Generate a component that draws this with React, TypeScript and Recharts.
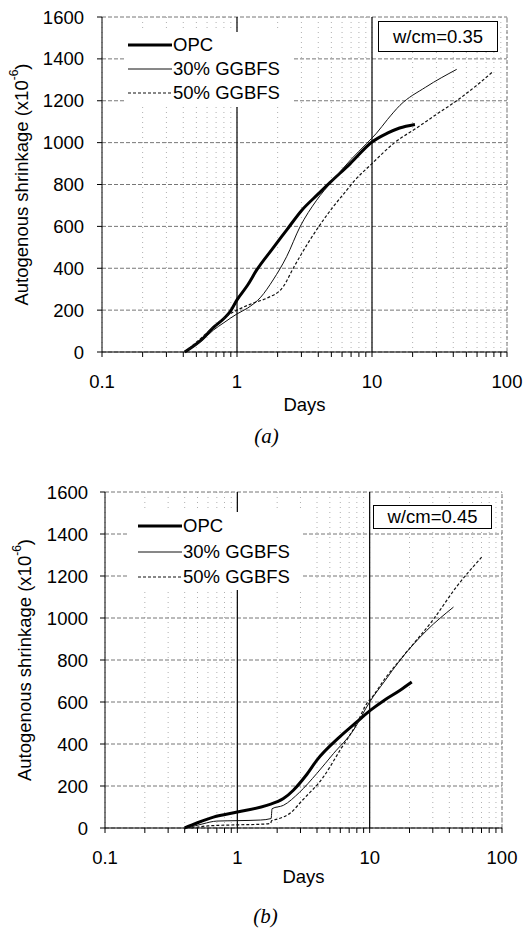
import React from 'react';
import { LineChart, Line, XAxis, YAxis, CartesianGrid, ReferenceLine, Legend } from 'recharts';

const X_TICKS = [0.1, 0.2, 0.3, 0.4, 0.5, 0.6, 0.7, 0.8, 0.9, 1, 2, 3, 4, 5, 6, 7, 8, 9, 10, 20, 30, 40, 50, 60, 70, 80, 90, 100];
const X_LABELS = [0.1, 1, 10, 100];
const MAJOR_X_LINES = [1, 10];
const Y_TICKS = [0, 200, 400, 600, 800, 1000, 1200, 1400, 1600];
const SERIES_NAMES = ['OPC', '30% GGBFS', '50% GGBFS'];

// Panel (a) w/cm = 0.35
const A_OPC_DAYS = [0.41, 0.55, 0.67, 0.8, 0.89, 1.0, 1.2, 1.4, 1.8, 2.33, 3.0, 4.0, 4.9, 6.9, 10, 13, 16, 20.8];
const A_OPC_VALUES = [0, 60, 118, 160, 193, 249, 320, 392, 487, 582, 675, 755, 810, 900, 1003, 1045, 1070, 1087];
const A_G30_DAYS = [0.41, 0.55, 0.67, 0.8, 1.0, 1.2, 1.5, 1.85, 2.33, 2.93, 3.89, 5.0, 7.0, 9.1, 10.8, 13, 16.1, 25, 42.4];
const A_G30_VALUES = [0, 55, 105, 140, 182, 210, 262, 344, 455, 598, 725, 812, 920, 995, 1045, 1110, 1178, 1265, 1350];
const A_G50_DAYS = [0.41, 0.55, 0.67, 0.85, 1.0, 1.31, 1.66, 2.2, 2.61, 3.47, 4.36, 5.15, 6.5, 7.28, 10, 14.7, 21.4, 30, 42.4, 60, 79.3];
const A_G50_VALUES = [0, 70, 120, 175, 200, 233, 257, 312, 400, 535, 630, 693, 773, 812, 900, 1000, 1070, 1135, 1200, 1275, 1341];

// Panel (b) w/cm = 0.45
const B_OPC_DAYS = [0.4, 0.5, 0.66, 1.0, 1.67, 2.23, 2.65, 3.3, 3.98, 5.97, 8, 10.1, 13, 17, 20.8];
const B_OPC_VALUES = [0, 25, 52, 76, 108, 140, 180, 250, 322, 435, 505, 560, 610, 656, 695];
const B_G30_DAYS = [0.42, 0.55, 0.7, 1.0, 1.5, 1.8, 1.83, 2.23, 2.95, 3.98, 5.32, 7.53, 10, 13, 17, 27, 43];
const B_G30_VALUES = [0, 20, 33, 35, 38, 45, 92, 108, 170, 259, 354, 465, 600, 700, 800, 941, 1052];
const B_G50_DAYS = [0.45, 0.6, 1.0, 1.5, 1.78, 1.82, 2.0, 2.5, 3.1, 4.47, 5.97, 7.98, 9.5, 10.5, 13, 18, 30, 45.5, 70.3];
const B_G50_VALUES = [0, 10, 15, 18, 22, 35, 42, 70, 132, 243, 370, 497, 592, 625, 710, 820, 990, 1150, 1290];

const zip = (xs: number[], ys: number[]) => xs.map((x, i) => ({ x, y: ys[i] }));

const FONT = '"Liberation Sans", Arial, sans-serif';
const SERIF = '"Liberation Serif", "Times New Roman", serif';

const STYLES = [
  { strokeWidth: 3, dash: undefined as string | undefined, color: '#000' },
  { strokeWidth: 1, dash: undefined as string | undefined, color: '#111' },
  { strokeWidth: 1.2, dash: '3 2', color: '#111' },
];

type PanelProps = {
  top: number;
  height: number;
  margin: { top: number; right: number; left: number; bottom: number };
  yAxisWidth: number;
  xAxisHeight: number;
  series: { x: number; y: number }[][];
  ratio: string;
  caption: string;
  daysOffset: number;
  captionOffset: number;
  yLabelX: number;
  yTickMargin: number;
  legendBox: { left: number; top: number; width: number; height: number; padTop: number; rowH: number; lineLeft: number };
  ratioBox: { left: number; top: number; width: number; height: number };
};

function Panel(p: PanelProps) {
  const legendContent = () => (
    <div style={{ position: 'relative', width: p.legendBox.width, height: p.legendBox.height, background: '#fff' }}>
      {SERIES_NAMES.map((name, i) => {
        const cy = p.legendBox.padTop + i * p.legendBox.rowH;
        const s = STYLES[i];
        return (
          <div key={name} style={{ position: 'absolute', left: p.legendBox.lineLeft, top: cy - 12, height: 24, display: 'flex', alignItems: 'center' }}>
            <svg width={44} height={24} style={{ display: 'block' }}>
              <line x1={0} x2={44} y1={12} y2={12} stroke={s.color} strokeWidth={s.strokeWidth} strokeDasharray={s.dash} />
            </svg>
            <span style={{ fontFamily: FONT, fontSize: 18.5, color: '#000', whiteSpace: 'nowrap', marginLeft: 1 }}>{name}</span>
          </div>
        );
      })}
    </div>
  );

  return (
    <div style={{ position: 'absolute', left: 0, top: p.top, width: 526, height: p.height }}>
      <LineChart width={526} height={p.height} margin={p.margin}>
        <CartesianGrid horizontal={false} stroke="#b0b0b0" strokeDasharray="1 4" />
        <CartesianGrid vertical={false} stroke="#777" strokeDasharray="4 2" />
        <XAxis
          type="number"
          dataKey="x"
          scale="log"
          domain={[0.1, 100]}
          allowDataOverflow
          ticks={X_TICKS}
          interval={0}
          height={p.xAxisHeight}
          tickSize={5}
          tickMargin={18}
          tickFormatter={(v: number) => (X_LABELS.includes(v) ? String(v) : '')}
          tick={{ fill: '#000', fontSize: 18.5, fontFamily: FONT }}
          axisLine={{ stroke: '#000' }}
          tickLine={{ stroke: '#000' }}
          label={{
            content: (props: any) => {
              const vb = props.viewBox;
              const cx = vb.x + vb.width / 2;
              return (
                <g>
                  <text x={cx} y={vb.y + p.daysOffset} textAnchor="middle" fontFamily={FONT} fontSize={18.5} fill="#000">Days</text>
                  <text x={cx - 38} y={vb.y + p.captionOffset} textAnchor="middle" fontFamily={SERIF} fontStyle="italic" fontSize={21} fill="#000">{p.caption}</text>
                </g>
              );
            },
          }}
        />
        <YAxis
          type="number"
          domain={[0, 1600]}
          ticks={Y_TICKS}
          interval={0}
          width={p.yAxisWidth}
          tickSize={5}
          tickMargin={p.yTickMargin}
          tick={{ fill: '#000', fontSize: 18.5, fontFamily: FONT }}
          axisLine={{ stroke: '#000' }}
          tickLine={{ stroke: '#000' }}
          label={{
            content: (props: any) => {
              const vb = props.viewBox;
              const cy = vb.y + vb.height / 2;
              const x = p.yLabelX;
              return (
                <text x={x} y={cy} transform={`rotate(-90 ${x} ${cy})`} textAnchor="middle" dominantBaseline="central" fontFamily={FONT} fontSize={18.5} fill="#000">
                  Autogenous shrinkage (x10<tspan dy={-7} fontSize={12}>-6</tspan><tspan dy={7}>)</tspan>
                </text>
              );
            },
          }}
        />
        <ReferenceLine x={100} stroke="#777" strokeDasharray="4 2" />
        {MAJOR_X_LINES.map((v) => (
          <ReferenceLine key={v} x={v} stroke="#000" strokeWidth={1.2} />
        ))}
        {p.series.map((d, i) => (
          <Line
            key={SERIES_NAMES[i]}
            data={d}
            dataKey="y"
            name={SERIES_NAMES[i]}
            type="monotone"
            stroke={STYLES[i].color}
            strokeWidth={STYLES[i].strokeWidth}
            strokeDasharray={STYLES[i].dash}
            dot={false}
            activeDot={false}
            isAnimationActive={false}
          />
        ))}
        <Legend
          layout="horizontal"
          align="center"
          verticalAlign="middle"
          content={legendContent}
          wrapperStyle={{ position: 'absolute', left: p.legendBox.left, top: p.legendBox.top, width: p.legendBox.width, height: p.legendBox.height }}
        />
      </LineChart>
      <div
        style={{
          position: 'absolute',
          left: p.ratioBox.left,
          top: p.ratioBox.top,
          width: p.ratioBox.width,
          height: p.ratioBox.height,
          boxSizing: 'border-box',
          border: '1.5px solid #000',
          background: '#fff',
          display: 'flex',
          alignItems: 'center',
          justifyContent: 'center',
          fontFamily: FONT,
          fontSize: 18.5,
          color: '#000',
        }}
      >
        {p.ratio}
      </div>
    </div>
  );
}

export default function App() {
  return (
    <div style={{ position: 'absolute', left: 0, top: 0, width: 526, height: 928, background: '#fff', overflow: 'hidden' }}>
      <Panel
        top={0}
        height={460}
        margin={{ top: 17, right: 19, left: 0, bottom: 0 }}
        yAxisWidth={102}
        xAxisHeight={108}
        series={[zip(A_OPC_DAYS, A_OPC_VALUES), zip(A_G30_DAYS, A_G30_VALUES), zip(A_G50_DAYS, A_G50_VALUES)]}
        ratio="w/cm=0.35"
        caption="(a)"
        daysOffset={59}
        captionOffset={91}
        yLabelX={21}
        yTickMargin={13}
        legendBox={{ left: 125, top: 32, width: 168, height: 75, padTop: 13, rowH: 24, lineLeft: 3 }}
        ratioBox={{ left: 378, top: 21, width: 120, height: 31 }}
      />
      <Panel
        top={460}
        height={468}
        margin={{ top: 32, right: 24, left: 0, bottom: 0 }}
        yAxisWidth={105}
        xAxisHeight={100}
        series={[zip(B_OPC_DAYS, B_OPC_VALUES), zip(B_G30_DAYS, B_G30_VALUES), zip(B_G50_DAYS, B_G50_VALUES)]}
        ratio="w/cm=0.45"
        caption="(b)"
        daysOffset={55}
        captionOffset={95}
        yLabelX={24}
        yTickMargin={12}
        legendBox={{ left: 127, top: 52, width: 174, height: 78, padTop: 14, rowH: 25.5, lineLeft: 11 }}
        ratioBox={{ left: 373, top: 45, width: 119, height: 24 }}
      />
    </div>
  );
}
